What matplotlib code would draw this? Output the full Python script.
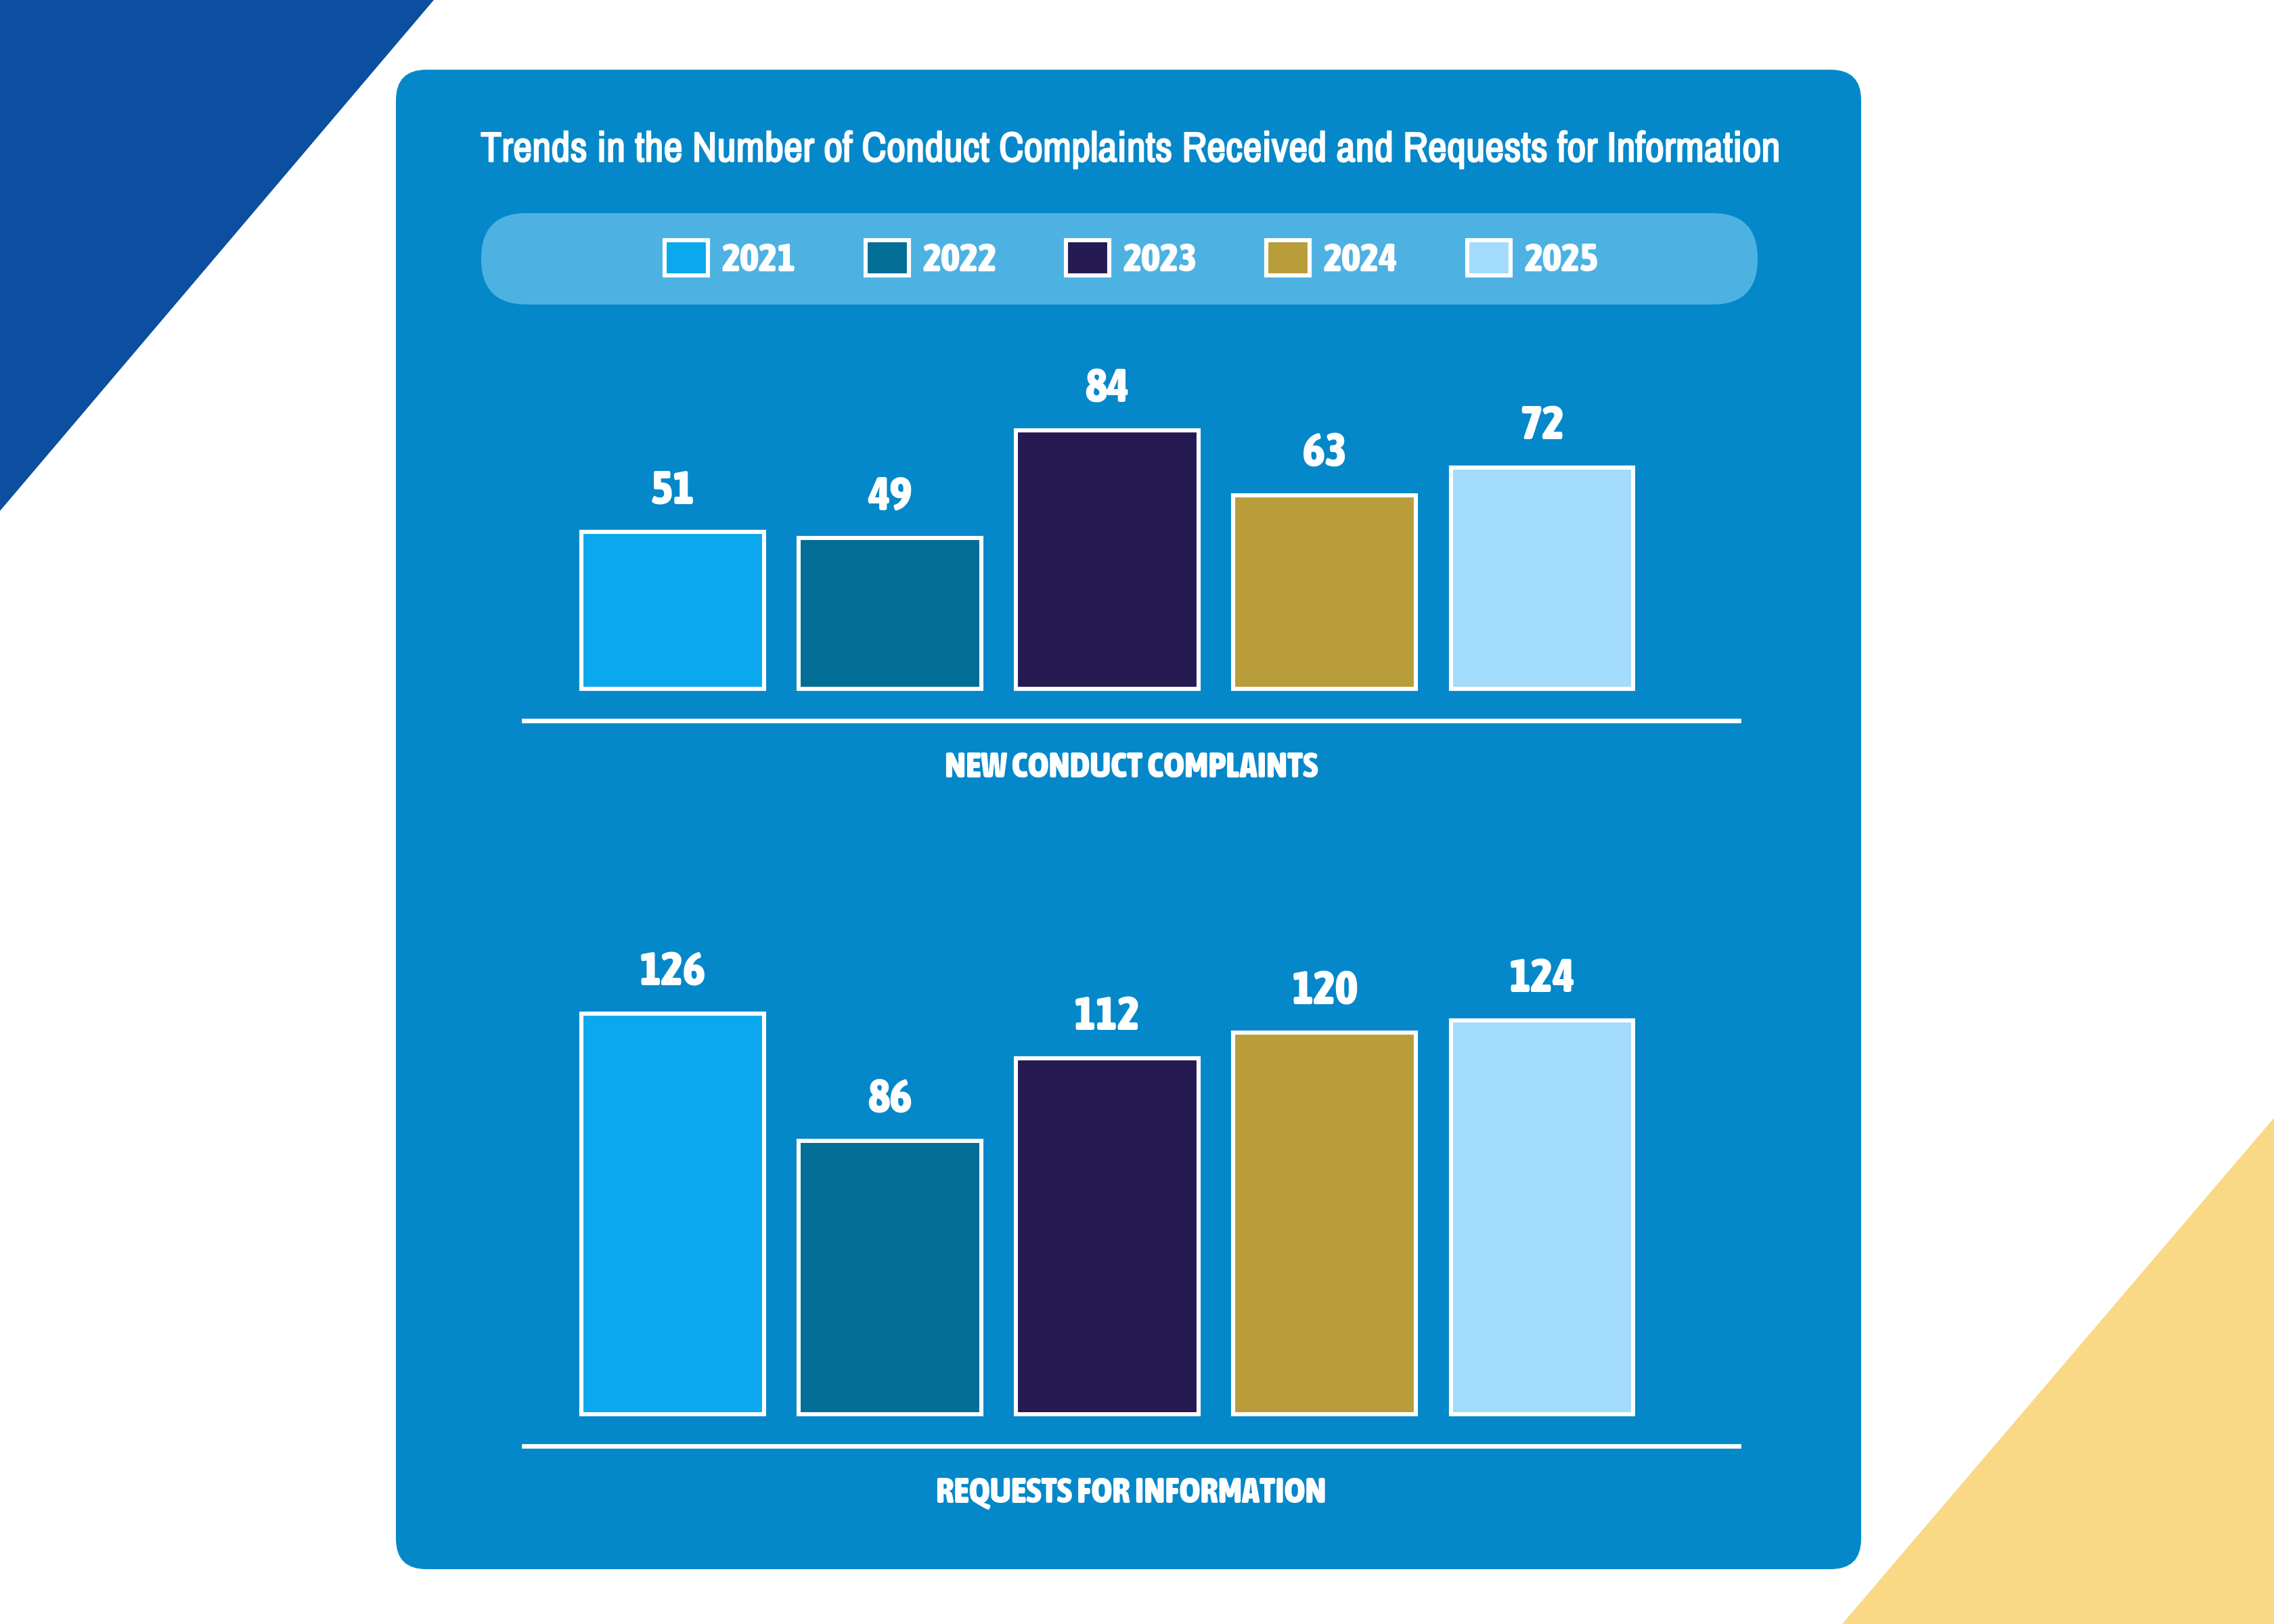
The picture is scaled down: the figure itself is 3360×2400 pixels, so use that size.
import matplotlib.pyplot as plt
import matplotlib.font_manager as fm
import matplotlib.patheffects as pe
from matplotlib.patches import Polygon, FancyBboxPatch

years = ["2021", "2022", "2023", "2024", "2025"]
complaints = [51, 49, 84, 63, 72]
requests = [126, 86, 112, 120, 124]
colors = ["#0BA8EE", "#026E96", "#261A52", "#B99D3B", "#A2DBFB"]

title = "Trends in the Number of Conduct Complaints Received and Requests for Information"
label_top = "NEW CONDUCT COMPLAINTS"
label_bottom = "REQUESTS FOR INFORMATION"


def wt(f):
    w = f.weight
    if isinstance(w, str):
        return {"bold": 700, "heavy": 800, "black": 900, "semibold": 600, "demibold": 600}.get(w, 400)
    return w


def pick(files):
    files = sorted(files, key=lambda f: ("Liberation" not in f.name, f.name))
    return files[0] if files else None


# the original uses an upright condensed sans, find the closest installed one
narrow = [f for f in fm.fontManager.ttflist
          if ("Narrow" in f.name or "Condensed" in f.name or f.stretch in ("condensed", "semi-condensed"))
          and f.style == "normal"]
reg = pick([f for f in narrow if 400 <= wt(f) < 600])
bold = pick([f for f in narrow if wt(f) >= 600])

if reg is not None:
    reg_fp = fm.FontProperties(fname=reg.fname)
else:
    reg_fp = fm.FontProperties(family="DejaVu Sans", stretch="condensed")
if bold is not None:
    bold_fp = fm.FontProperties(fname=bold.fname)
    heavy = []
else:
    bold_fp = reg_fp.copy()
    heavy = [pe.withStroke(linewidth=1.6, foreground="white")]
semi = [pe.withStroke(linewidth=0.8, foreground="white")]


def fp(base, size):
    p = base.copy()
    p.set_size(size)
    return p


W, H = 3360, 2400
fig = plt.figure(figsize=(16.8, 12), dpi=200)
fig.patch.set_facecolor("white")

# background layer in pixel coords
bg = fig.add_axes([0, 0, 1, 1])
bg.set_xlim(0, W)
bg.set_ylim(H, 0)
bg.axis("off")
bg.add_patch(Polygon([(0, 0), (641, 0), (0, 755)], closed=True, color="#0C4E9F", lw=0))
bg.add_patch(Polygon([(3360, 1652), (3360, 2400), (2722, 2400)], closed=True, color="#F9D985", lw=0))
bg.add_patch(FancyBboxPatch((585, 103), 2165, 2216, boxstyle="round,pad=0,rounding_size=45",
                            fc="#0588C9", ec="none"))
bg.add_patch(FancyBboxPatch((711, 315), 1886, 135, boxstyle="round,pad=0,rounding_size=67",
                            fc="#4DB2E2", ec="none"))
t = bg.text(1672, 222, title, color="white", fontproperties=fp(reg_fp, 25),
            ha="center", va="center", path_effects=semi)

# fit title to the width it has in the original
fig.canvas.draw()
w = t.get_window_extent().width
t.set_fontsize(25 * 1920 / w)


def bar_panel(rect, values, ylim, xlabel):
    ax = fig.add_axes(rect)
    ax.set_facecolor("none")
    bars = ax.bar(range(len(values)), values, width=0.84, color=colors,
                  edgecolor="white", linewidth=2.2, label=years)
    labs = ax.bar_label(bars, labels=[str(v) for v in values], padding=10, color="white",
                        fontproperties=fp(bold_fp, 25))
    for lb in labs:
        lb.set_path_effects(heavy)
    ax.set_xlim(-0.685, 4.905)
    ax.set_ylim(*ylim)
    for s in ["top", "left", "right"]:
        ax.spines[s].set_visible(False)
    ax.spines["bottom"].set_color("white")
    ax.spines["bottom"].set_linewidth(2.4)
    ax.set_xticks([])
    ax.set_yticks([])
    ax.set_xlabel(xlabel, color="white", fontproperties=fp(bold_fp, 19), labelpad=16,
                  path_effects=heavy)
    return ax, bars


def frac(x0, y0, x1, y1):
    return [x0 / W, 1 - y1 / H, (x1 - x0) / W, (y1 - y0) / H]


ax1, bars1 = bar_panel(frac(774, 536, 2569, 1065), complaints, (-10.3, 106), label_top)
ax2, bars2 = bar_panel(frac(774, 1329, 2569, 2137), requests, (-10, 162), label_bottom)

handles = [bars1.patches[i] for i in range(len(years))]
leg = fig.legend(handles, years, loc="center", bbox_to_anchor=(1672 / W, 1 - 384 / H),
                 ncol=5, frameon=False, handlelength=1.1, handleheight=1.0,
                 handletextpad=0.35, columnspacing=1.75, labelcolor="white",
                 prop=fp(bold_fp, 21))
for txt in leg.get_texts():
    txt.set_path_effects(heavy)

fig.savefig("out.png", dpi=200)
